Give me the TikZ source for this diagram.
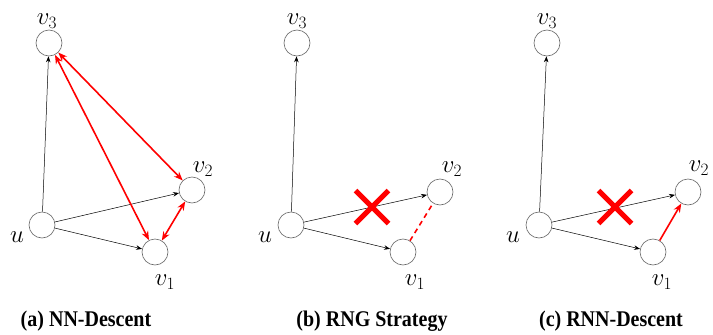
\documentclass[tikz,border=0pt]{standalone}
\usepackage{fontspec}
\newfontfamily\capfont{Liberation Serif}
\usetikzlibrary{arrows.meta,shapes.misc}
\begin{document}
\begin{tikzpicture}[x=1pt,y=-1pt,
 vtx/.style={circle,draw=black!60,line width=0.6pt,minimum size=26pt,inner sep=0pt},
 lbl/.style={font=\fontsize{25}{30}\selectfont,inner sep=0pt},
 blk/.style={draw=black,line width=0.5pt,-{Stealth[length=6pt,width=4.5pt]}},
 redboth/.style={draw=red,line width=1.6pt,{Stealth[length=9pt,width=7pt]}-{Stealth[length=9pt,width=7pt]}},
 redone/.style={draw=red,line width=1.6pt,-{Stealth[length=9pt,width=7pt]}},
 reddash/.style={draw=red,line width=1.6pt,dash pattern=on 5pt off 4pt},
 xmark/.style={cross out,draw=red,line width=5pt,minimum size=28pt,inner sep=0pt},
 captext/.style={font=\capfont\bfseries\fontsize{20}{24}\selectfont,inner sep=0pt,yscale=1.12}
]
\useasboundingbox (0,0) rectangle (713,335);
% ---- panel (a)
\node[vtx] (a3) at (49,43) {};
\node[vtx] (au) at (42,225) {};
\node[vtx] (a2) at (192,190) {};
\node[vtx] (a1) at (155,252) {};
\node[lbl] (la3) at (47,21) {$v_3$};
\node[lbl] (la2) at (203,169) {$v_2$};
\node[lbl] (lau) at (17,237) {$u$};
\node[lbl] (la1) at (165,282) {$v_1$};
\draw[blk] (au) -- (a3);
\draw[blk] (au) -- (a2);
\draw[blk] (au) -- (a1);
\draw[redboth] (a3) -- (a2);
\draw[redboth] (a3) -- (a1);
\draw[redboth] (a1) -- (a2);
\node[captext] (ca) at (86,321) {(a) NN-Descent};
% ---- panel (b)
\node[vtx] (b3) at (297,43) {};
\node[vtx] (bu) at (291,225) {};
\node[vtx] (b2) at (440,192) {};
\node[vtx] (b1) at (403,252) {};
\node[lbl] (lb3) at (297,21) {$v_3$};
\node[lbl] (lb2) at (452,169) {$v_2$};
\node[lbl] (lbu) at (265,237) {$u$};
\node[lbl] (lb1) at (415,282) {$v_1$};
\draw[blk] (bu) -- (b3);
\draw[blk] (bu) -- (b2);
\draw[blk] (bu) -- (b1);
\draw[reddash] (b1) -- (b2);
\node[xmark] (xb) at (372,207) {};
\node[captext] (cb) at (372,321) {(b) RNG Strategy};
% ---- panel (c)
\node[vtx] (c3) at (547,43) {};
\node[vtx] (cu) at (539,225) {};
\node[vtx] (c2) at (688,192) {};
\node[vtx] (c1) at (653,252) {};
\node[lbl] (lc3) at (547,21) {$v_3$};
\node[lbl] (lc2) at (699,168) {$v_2$};
\node[lbl] (lcu) at (513,237) {$u$};
\node[lbl] (lc1) at (662,282) {$v_1$};
\draw[blk] (cu) -- (c3);
\draw[blk] (cu) -- (c2);
\draw[blk] (cu) -- (c1);
\draw[redone] (c1) -- (c2);
\node[xmark] (xc) at (615,207) {};
\node[captext] (cc) at (611,321) {(c) RNN-Descent};
\end{tikzpicture}
\end{document}
